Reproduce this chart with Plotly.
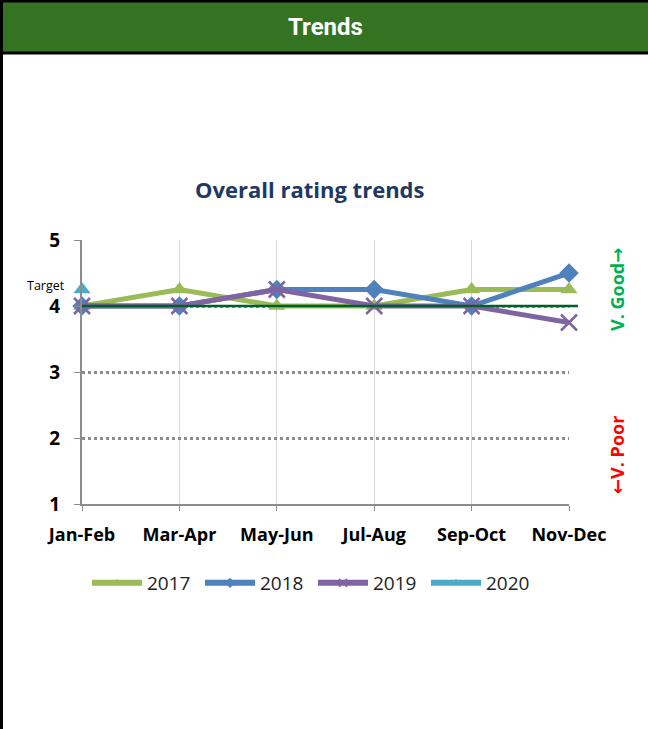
import plotly.graph_objects as go

categories = ["Jan-Feb", "Mar-Apr", "May-Jun", "Jul-Aug", "Sep-Oct", "Nov-Dec"]
s2017 = [4, 4.25, 4, 4, 4.25, 4.25]
s2018 = [4, 4, 4.25, 4.25, 4, 4.5]
s2019 = [4, 4, 4.25, 4, 4, 3.75]
s2020 = [4.25, None, None, None, None, None]
target = 4
y_ticks = [1, 2, 3, 4, 5]

W, H = 648, 729
L, R, T, B = 82, 79, 240, 225
PW, PH = W - L - R, H - T - B

def px(x):
    return (x - L) / PW

def py(y):
    return (H - B - y) / PH

FONT = "Open Sans"
ARROW = "<span style='font-family:DejaVu Sans'>{}</span>"
fig = go.Figure()

series = [
    ("2017", s2017, "#9BBB59", "triangle-up", 15),
    ("2018", s2018, "#4F81BD", "diamond", 15),
    ("2019", s2019, "#8064A2", "x-thin", 16),
    ("2020", s2020, "#4BACC6", "triangle-up", 15),
]
for name, vals, col, sym, sz in series:
    fig.add_trace(go.Scatter(
        x=categories, y=vals, name=name, mode="lines+markers",
        line=dict(color=col, width=5),
        marker=dict(symbol=sym, size=sz, color=col,
                    line=dict(color=col, width=2.5 if sym == "x-thin" else 0)),
        cliponaxis=False, showlegend=False, legendgroup=name,
    ))
for name, vals, col, sym, sz in series:
    fig.add_trace(go.Scatter(
        x=[None], y=[None], name=name, mode="lines+markers",
        line=dict(color=col, width=6),
        marker=dict(symbol=sym, size=8, color=col,
                    line=dict(color=col, width=1.5 if sym == "x-thin" else 0)),
        showlegend=True, legendgroup=name,
    ))

shapes = [
    dict(type="line", xref="paper", yref="y", x0=0, x1=px(578), y0=target, y1=target,
         line=dict(color="#00602B", width=2.5), layer="above"),
    dict(type="rect", xref="paper", yref="paper", x0=px(1), x1=px(650), y0=py(1), y1=py(53),
         fillcolor="#337321", line=dict(color="black", width=3), layer="below"),
    dict(type="line", xref="paper", yref="paper", x0=px(1.5), x1=px(1.5), y0=py(0), y1=py(729),
         line=dict(color="black", width=3)),
]

annotations = [
    dict(text="<b>Trends</b>", xref="paper", yref="paper", x=px(325), y=py(27),
         showarrow=False, font=dict(family="Roboto", size=24, color="white"),
         xanchor="center", yanchor="middle"),
    dict(text="<b>Overall rating trends</b>", xref="paper", yref="paper", x=px(310), y=py(189),
         showarrow=False, font=dict(family=FONT, size=22, color="#1F3864"),
         xanchor="center", yanchor="middle"),
    dict(text="Target", xref="paper", yref="paper", x=px(46), y=py(285),
         showarrow=False, font=dict(family=FONT, size=12.5, color="black"),
         xanchor="center", yanchor="middle"),
    dict(text="<b>V. Good" + ARROW.format("→") + "</b>", xref="paper", yref="paper",
         x=px(617), y=py(290),
         showarrow=False, textangle=-90, font=dict(family=FONT, size=18, color="#00B050"),
         xanchor="center", yanchor="middle"),
    dict(text="<b>" + ARROW.format("←") + "V. Poor</b>", xref="paper", yref="paper",
         x=px(617), y=py(455),
         showarrow=False, textangle=-90, font=dict(family=FONT, size=18, color="#FF0000"),
         xanchor="center", yanchor="middle"),
]

fig.update_layout(
    width=W, height=H, autosize=False,
    margin=dict(l=L, r=R, t=T, b=B, pad=0),
    paper_bgcolor="white", plot_bgcolor="white",
    showlegend=True,
    legend=dict(orientation="h", x=px(313), y=py(583), xanchor="center", yanchor="middle",
                font=dict(family=FONT, size=19, color="#222222"),
                itemwidth=50, entrywidth=48, traceorder="normal"),
    shapes=shapes, annotations=annotations,
    xaxis=dict(type="category", categoryorder="array", categoryarray=categories,
               range=[0, len(categories) - 1], showgrid=True, gridcolor="#D9D9D9", gridwidth=1,
               showline=True, linecolor="#8C8C8C", linewidth=2,
               ticks="outside", ticklen=5, tickcolor="#8C8C8C", ticklabelstandoff=8,
               tickfont=dict(family=FONT, size=18, color="black", weight="bold"),
               fixedrange=True, zeroline=False),
    yaxis=dict(range=[1, 5], tickvals=y_ticks, showgrid=True, gridcolor="#8C8C8C",
               gridwidth=2.5, griddash="3px,3px",
               showline=True, linecolor="#8C8C8C", linewidth=2,
               ticks="outside", ticklen=6, tickcolor="#8C8C8C", ticklabelstandoff=10,
               tickfont=dict(family=FONT, size=19, color="black", weight="bold"),
               fixedrange=True, zeroline=False),
)

fig.write_html("out.html", config={"displayModeBar": False},
               post_script="document.body.style.margin='0';document.body.style.overflow='hidden';")
